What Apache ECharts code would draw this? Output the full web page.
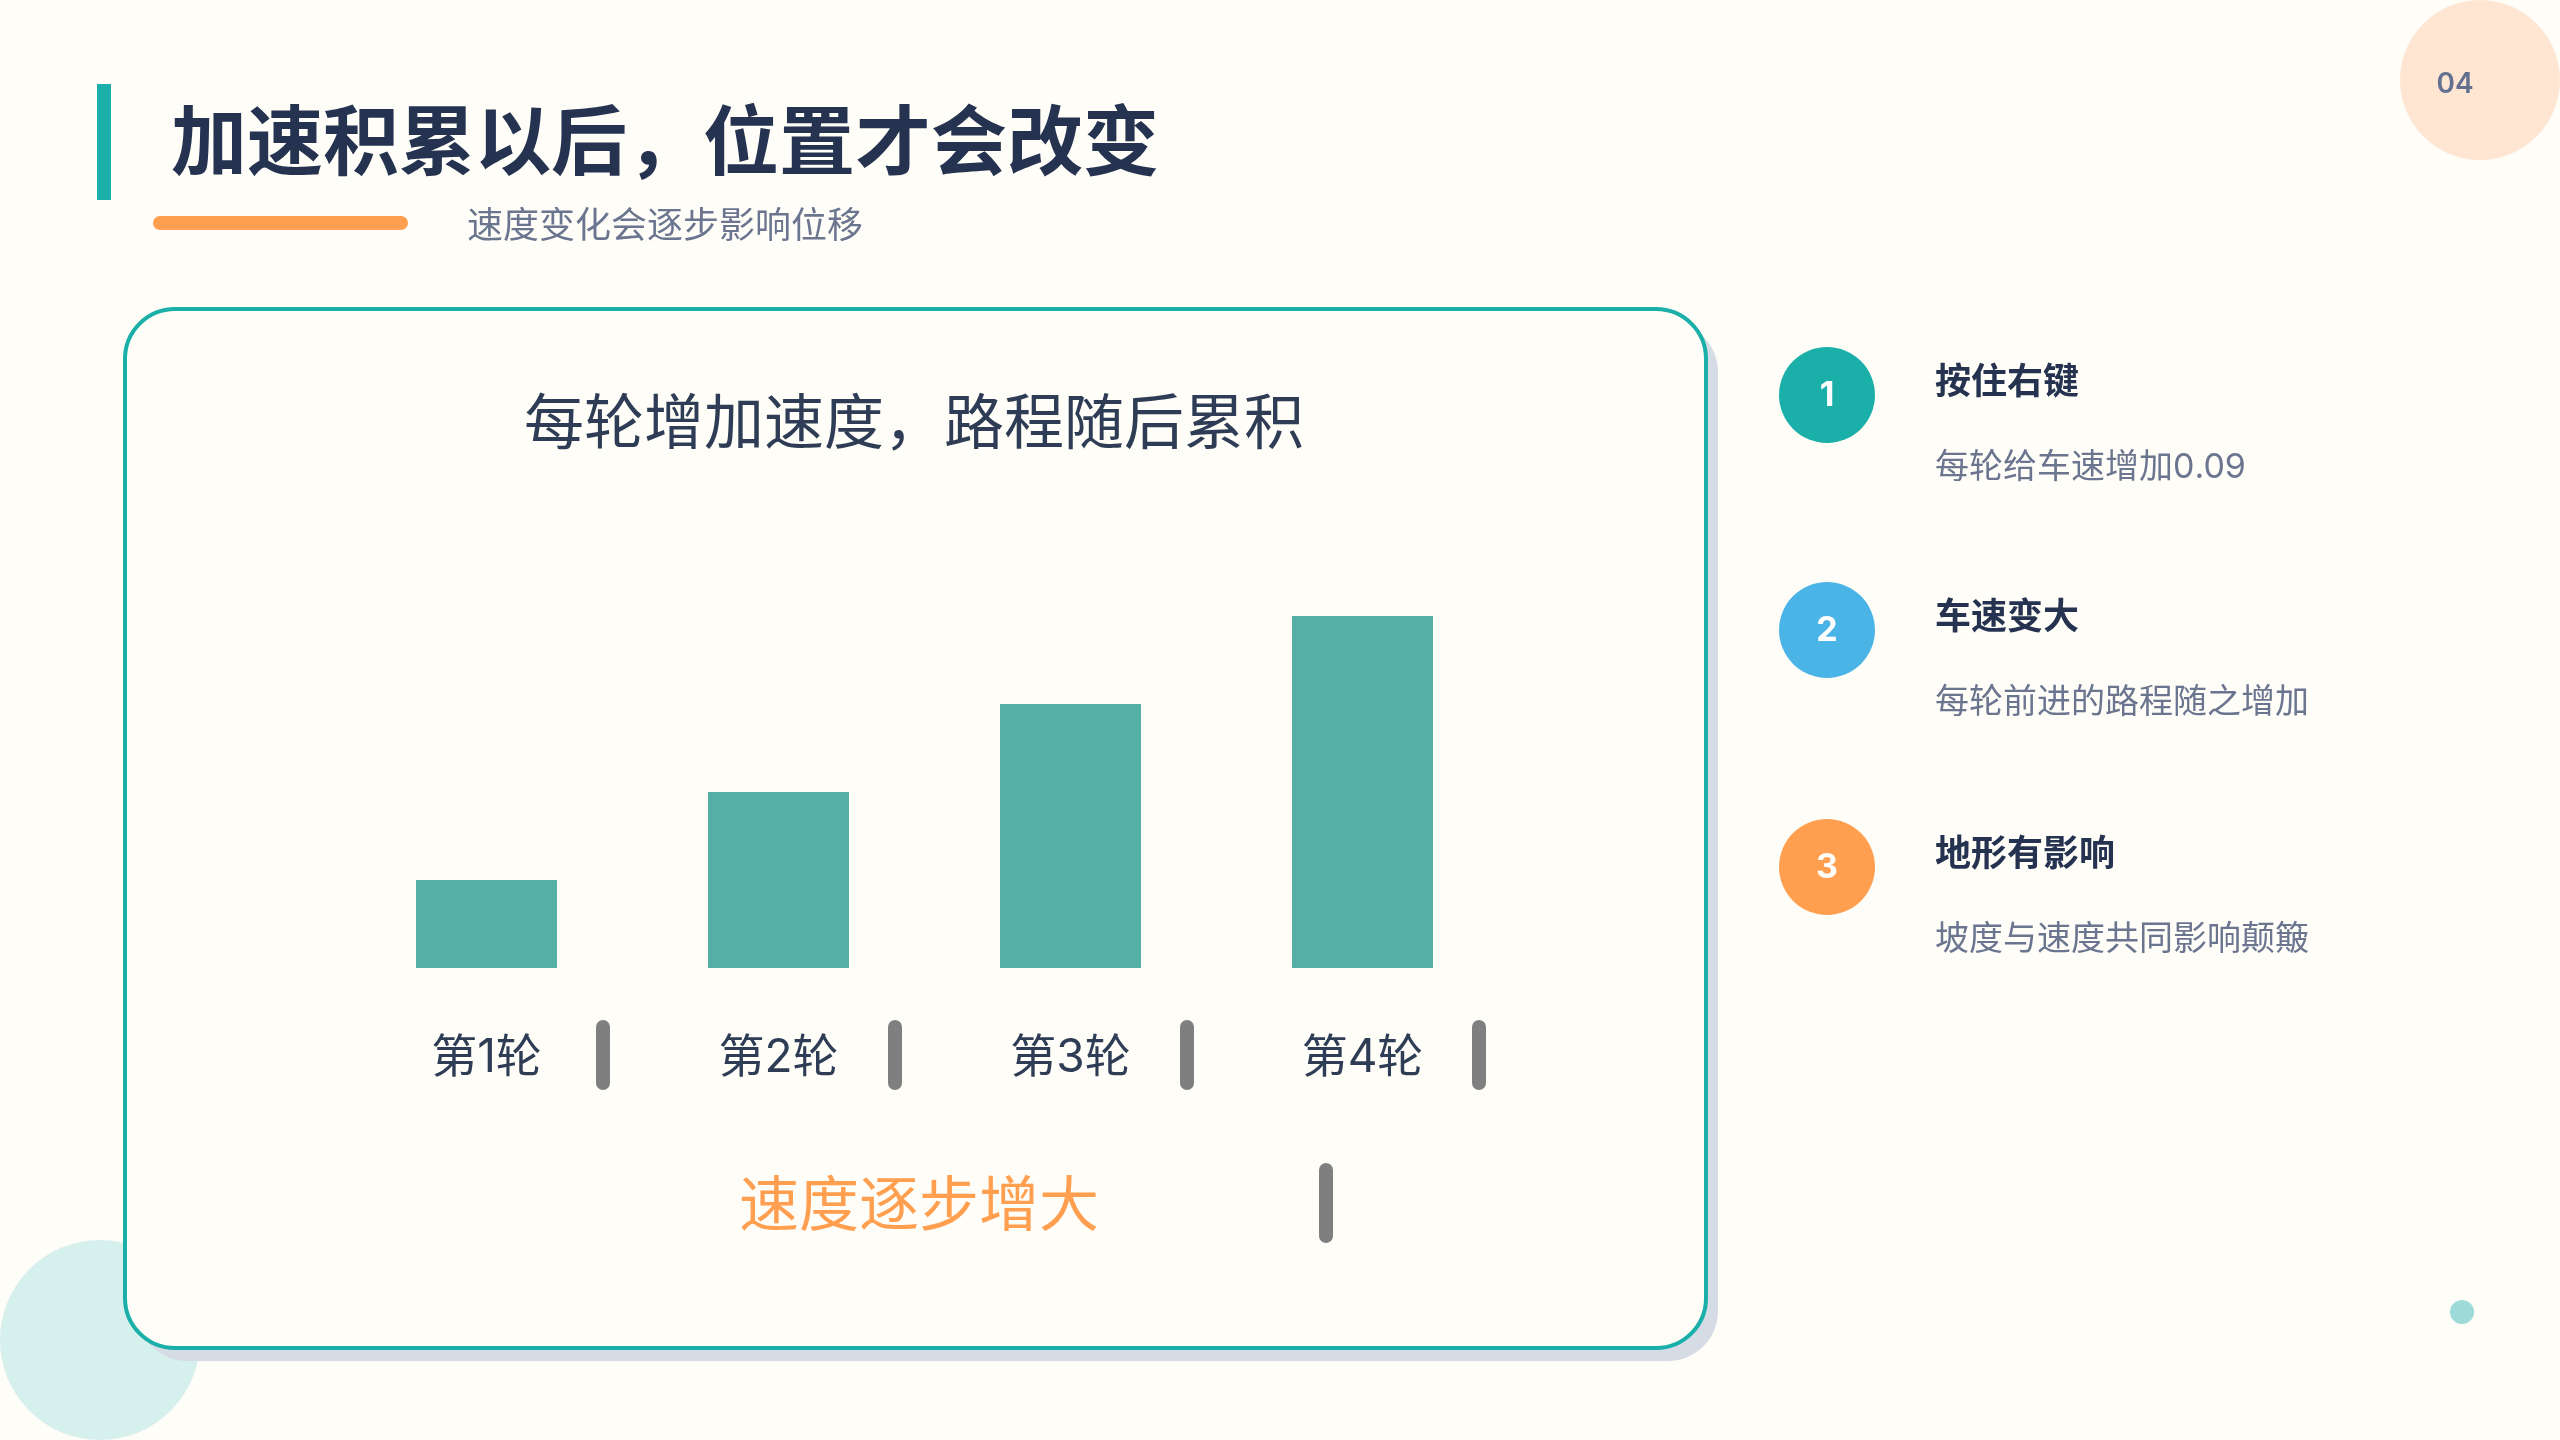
<!DOCTYPE html>
<html>
<head>
<meta charset="utf-8">
<script src="https://cdn.jsdelivr.net/npm/echarts@6/dist/echarts.min.js"></script>
<style>
  html, body { margin: 0; padding: 0; background: #FEFDF7; }
  #chart { width: 2560px; height: 1440px; }
</style>
</head>
<body>
<div id="chart"></div>
<script>
// ---- data ----
var categories = ['第1轮', '第2轮', '第3轮', '第4轮'];
var distances = [0.09, 0.18, 0.27, 0.36];
var axisName = '速度逐步增大';
var pageTitle = '加速积累以后，位置才会改变';
var pageSubtitle = '速度变化会逐步影响位移';
var chartTitle = '每轮增加速度，路程随后累积';
var pageNumber = '04';
var stepTitles = ['按住右键', '车速变大', '地形有影响'];
var stepDescs = ['每轮给车速增加0.09', '每轮前进的路程随之增加', '坡度与速度共同影响颠簸'];
var stepColors = ['#1AAFA8', '#4BB4E6', '#FF9F4F'];

var FONT = 'Inter, "Noto Sans CJK SC", "Noto Sans", sans-serif';
var FONT_CJK = '"Noto Sans CJK SC", "Noto Sans", sans-serif';

function txt(text, x, y, size, weight, color, align, font) {
  return {
    type: 'text', x: x, y: y, z: 5,
    style: {
      text: text, fontSize: size, fontWeight: weight, fontFamily: font || FONT_CJK, fill: color,
      align: align, textAlign: align, verticalAlign: 'middle', textVerticalAlign: 'middle'
    }
  };
}

var graphics = [
  // decorative background shapes
  { type: 'circle', z: -5, shape: { cx: 100, cy: 1340, r: 100 }, style: { fill: '#D6F0EE' } },
  { type: 'circle', z: -5, shape: { cx: 2480, cy: 80, r: 80 }, style: { fill: '#FFE6D2' } },
  { type: 'circle', z: -5, shape: { cx: 2462, cy: 1312, r: 12 }, style: { fill: '#9EDBD8' } },
  // card shadow & card
  { type: 'rect', z: -4, shape: { x: 137, y: 322, width: 1581, height: 1039, r: 50 }, style: { fill: '#D5DCE6' } },
  { type: 'rect', z: -3, shape: { x: 125, y: 309, width: 1581, height: 1039, r: 50 }, style: { fill: '#FEFDF7', stroke: '#1AAFA8', lineWidth: 4 } },
  // header
  { type: 'rect', z: 1, shape: { x: 97, y: 84, width: 14, height: 116 }, style: { fill: '#1AAFA8' } },
  { type: 'rect', z: 1, shape: { x: 153, y: 216, width: 255, height: 14, r: 7 }, style: { fill: '#FF9F4F' } },
  txt(pageTitle, 171, 140, 76, 'bold', '#263350', 'left'),
  txt(pageSubtitle, 467, 224, 36, 'normal', '#6B7590', 'left'),
  txt(pageNumber, 2455, 85, 28, '600', '#647090', 'center', FONT),
  // chart title inside card
  txt(chartTitle, 914, 421, 60, 'normal', '#2E3D55', 'center')
];

var stepY = [395, 630, 867];
for (var i = 0; i < stepTitles.length; i++) {
  graphics.push({ type: 'circle', z: 1, shape: { cx: 1827, cy: stepY[i], r: 48 }, style: { fill: stepColors[i] } });
  graphics.push(txt(String(i + 1), 1827, stepY[i] + 1, 34, 'bold', '#FFFFFF', 'center', FONT));
  graphics.push(txt(stepTitles[i], 1935, stepY[i] - 15, 36, 'bold', '#263350', 'left'));
  graphics.push(txt(stepDescs[i], 1935, stepY[i] + 73, 34, 'normal', '#6B7590', 'left', FONT));
}

var chart = echarts.init(document.getElementById('chart'));
chart.setOption({
  backgroundColor: '#FEFDF7',
  animation: false,
  textStyle: { fontFamily: FONT },
  graphic: graphics,
  grid: { left: 340.5, right: 1051.5, top: 577, bottom: 472, containLabel: false },
  xAxis: {
    type: 'category',
    data: categories,
    axisLine: { show: false },
    axisTick: { show: false },
    splitLine: { show: false },
    axisLabel: {
      margin: 52,
      interval: 0,
      formatter: function (v) { return '{s| }{t|' + v + '}{b| }'; },
      rich: {
        s: { width: 63.5, height: 70 },
        t: { fontSize: 46, color: '#2E3D55', fontFamily: FONT, width: 120, align: 'center', padding: [6, 49.5, 0, 0], verticalAlign: 'middle' },
        b: { width: 14, height: 70, backgroundColor: '#7F7F7F', borderRadius: 7 }
      }
    },
    name: '{s| }{t|' + axisName + '}{b| }',
    nameLocation: 'middle',
    nameGap: 195,
    nameTextStyle: {
      rich: {
        s: { width: 223, height: 80 },
        t: { fontSize: 60, color: '#FF9F4F', fontFamily: FONT_CJK, width: 360, padding: [0, 220, 0, 0], verticalAlign: 'middle' },
        b: { width: 14, height: 80, backgroundColor: '#7F7F7F', borderRadius: 7 }
      }
    }
  },
  yAxis: {
    type: 'value', min: 0, max: 0.4, show: false,
    splitLine: { show: false }
  },
  series: [{
    type: 'bar',
    data: distances,
    barWidth: 141,
    itemStyle: { color: '#55AFA6' },
    label: { show: false }
  }]
});
</script>
</body>
</html>
